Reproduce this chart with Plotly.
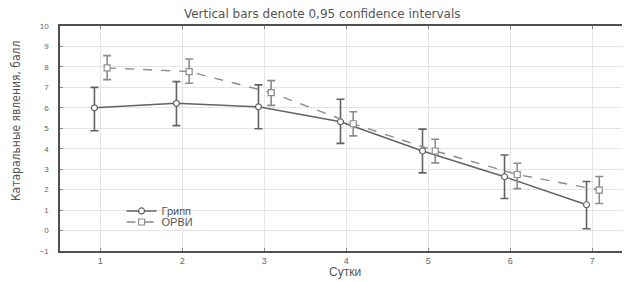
import plotly.graph_objects as go

days = [1, 2, 3, 4, 5, 6, 7]
day_labels = ["1", "2", "3", "4", "5", "6", "7"]

gripp_mean = [6.0, 6.22, 6.05, 5.32, 3.89, 2.63, 1.26]
gripp_upper = [7.0, 7.28, 7.12, 6.42, 4.96, 3.69, 2.40]
gripp_lower = [4.88, 5.13, 4.98, 4.26, 2.82, 1.57, 0.09]

orvi_mean = [7.95, 7.77, 6.74, 5.22, 3.89, 2.74, 1.98]
orvi_upper = [8.55, 8.39, 7.33, 5.81, 4.46, 3.29, 2.64]
orvi_lower = [7.38, 7.20, 6.12, 4.63, 3.31, 2.05, 1.32]

offset_gripp = -0.07
offset_orvi = 0.085

fig = go.Figure()

def add_series(name, mean, upper, lower, off, dash, color, symbol, legend):
    xs = [d + off for d in days]
    fig.add_trace(go.Scatter(
        x=xs, y=mean, name=name, mode="lines+markers", legend=legend,
        line=dict(color=color, width=1.4, dash=dash),
        marker=dict(symbol=symbol, size=6, color="white",
                    line=dict(color=color, width=1.2)),
        error_y=dict(type="data", symmetric=False,
                     array=[u - m for u, m in zip(upper, mean)],
                     arrayminus=[m - l for m, l in zip(mean, lower)],
                     color=color, thickness=1.6, width=4),
    ))

add_series("Грипп", gripp_mean, gripp_upper, gripp_lower, offset_gripp,
           "solid", "#636363", "circle", "legend")
add_series("ОРВИ", orvi_mean, orvi_upper, orvi_lower, offset_orvi,
           "dash", "#8c8c8c", "square", "legend2")

legend_style = dict(xanchor="left", yanchor="middle", bgcolor="rgba(0,0,0,0)",
                    font=dict(size=11, color="#555555", family="Liberation Sans, Arial"),
                    itemwidth=30)

fig.update_layout(
    width=622, height=274,
    margin=dict(l=52, r=0, t=18, b=31),
    paper_bgcolor="white", plot_bgcolor="white",
    font=dict(family="Liberation Sans, Arial", color="#555555", size=9),
    title=dict(text="Vertical bars denote 0,95 confidence intervals",
               x=0.46, xref="paper", xanchor="center", y=0.978, yanchor="middle",
               font=dict(size=12, color="#555555", family="DejaVu Sans")),
    showlegend=True,
    legend=dict(x=0.108, y=0.178, **legend_style),
    legend2=dict(x=0.108, y=0.129, **legend_style),
    annotations=[
        dict(text="Сутки", xref="paper", yref="paper", x=0.5, y=-0.093,
             xanchor="center", yanchor="middle", showarrow=False,
             font=dict(size=12, color="#555555", family="Liberation Sans, Arial")),
        dict(text="Катаральные явления, балл", xref="paper", yref="paper",
             x=-0.077, y=0.578, xanchor="center", yanchor="middle", textangle=-90,
             showarrow=False,
             font=dict(size=12, color="#555555",
                       family="DejaVu Sans Condensed, Liberation Sans Narrow, Arial Narrow")),
    ],
)

fig.update_xaxes(
    range=[0.51, 7.46], tickmode="array", tickvals=days, ticktext=day_labels,
    showgrid=True, gridcolor="#e4e4e4", gridwidth=1,
    showline=True, linecolor="#505050", linewidth=1.5, mirror="ticks",
    ticks="inside", ticklen=3, tickcolor="#888888",
    tickfont=dict(size=9, color="#666666"),
    zeroline=False, automargin=False,
)
fig.update_yaxes(
    range=[-1, 10], dtick=1, tick0=0,
    showgrid=True, gridcolor="#e4e4e4", gridwidth=1,
    showline=True, linecolor="#505050", linewidth=1.5, mirror=False,
    ticks="inside", ticklen=3, tickcolor="#888888",
    tickfont=dict(size=8, color="#666666"), ticklabelstandoff=8,
    zeroline=False, automargin=False,
)

fig.write_html("out.html")
